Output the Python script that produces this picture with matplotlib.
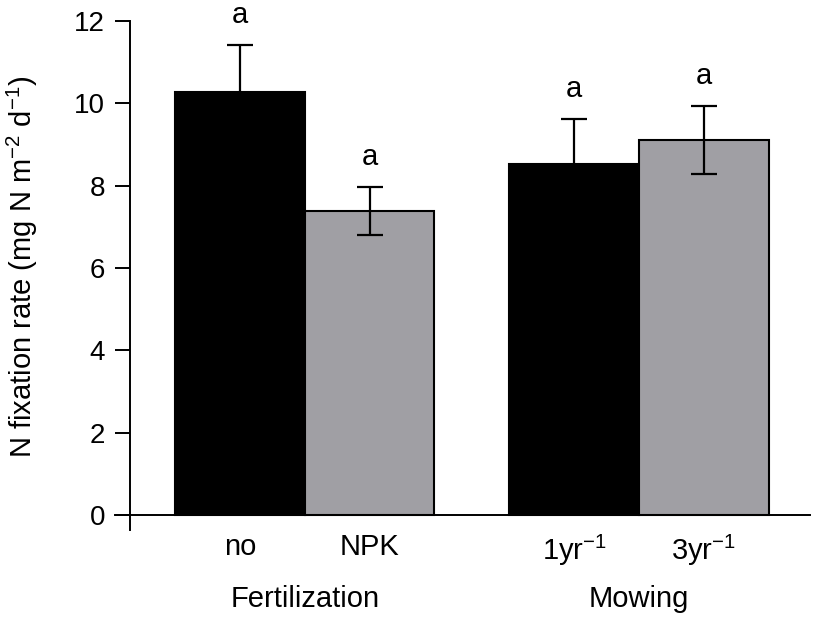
import matplotlib
matplotlib.use("Agg")
import matplotlib.pyplot as plt
import numpy as np

plt.rcParams['font.family'] = ['Liberation Sans', 'DejaVu Sans']

categories = ['no', 'NPK', '1yr$^{\\mathregular{-1}}$', '3yr$^{\\mathregular{-1}}$']
groups = ['Fertilization', 'Mowing']
values = [10.27, 7.38, 8.53, 9.11]
errors = [1.15, 0.58, 1.09, 0.82]
letters = ['a', 'a', 'a', 'a']
colors = ['#000000', '#a09fa4', '#000000', '#a09fa4']

pos = np.array([0.0, 1.0, 2.58, 3.58])

FS = 21
fig = plt.figure(figsize=(8.15, 6.19), dpi=100)
W, H = 815, 619
ax = fig.add_axes([115 / W, 1 - 530 / H, (810 - 115) / W, (530 - 21) / H])

ax.bar(pos, values, width=1.0, color=colors, edgecolor='black', linewidth=1.5, zorder=2)
ax.errorbar(pos, values, yerr=errors, fmt='none', ecolor='black', elinewidth=1.6,
            capsize=9.5, capthick=1.6, zorder=3)
for p, v, e, t in zip(pos, values, errors, letters):
    ax.annotate(t, (p, v + e), xytext=(0, 16), textcoords='offset points',
                ha='center', va='baseline', fontsize=FS)

ax.set_xlim(-0.965, 4.40)
ax.set_ylim(-0.36, 12)

for s in ['top', 'right']:
    ax.spines[s].set_visible(False)
ax.spines['left'].set_position(('data', -0.85))
ax.spines['left'].set_bounds(-0.36, 12)
ax.spines['bottom'].set_position(('data', 0))
for s in ['left', 'bottom']:
    ax.spines[s].set_linewidth(1.4)

ax.set_yticks([0, 2, 4, 6, 8, 10, 12])
ax.tick_params(axis='y', length=11, width=1.4, labelsize=20, pad=7)
ax.set_xticks(pos)
ax.set_xticklabels(categories)
ax.tick_params(axis='x', length=0, labelsize=FS, pad=13)

ax.set_ylabel('N fixation rate (mg N m$^{\\mathregular{-2}}$ d$^{\\mathregular{-1}}$)', fontsize=FS)
ax.yaxis.set_label_coords(-0.108, 0.517)

group_x = [(pos[0] + pos[1]) / 2, (pos[2] + pos[3]) / 2]
for gx, g in zip(group_x, groups):
    ax.text(gx, -2.23, g, ha='center', va='baseline', fontsize=FS, clip_on=False)

fig.savefig('out.png', dpi=100)
